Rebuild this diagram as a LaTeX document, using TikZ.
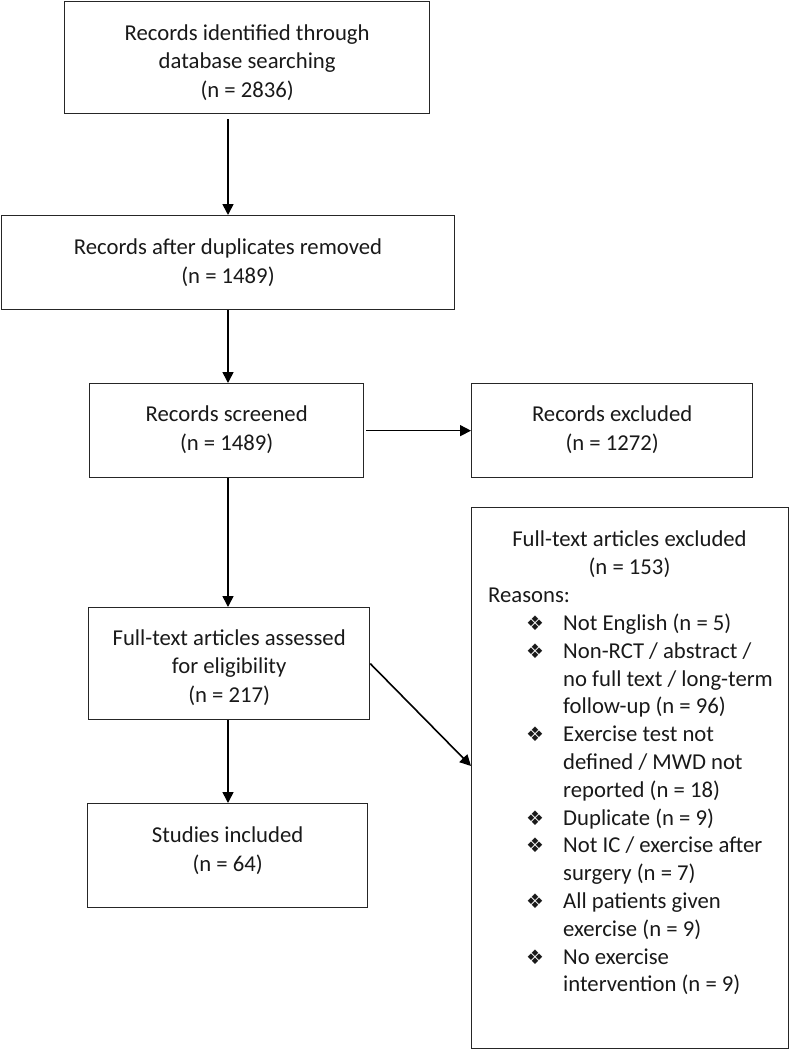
\documentclass[tikz,border=0pt]{standalone}
\usepackage{fontspec}
\setmainfont{Carlito}
\newfontfamily\dejavu{DejaVu Sans}
\usetikzlibrary{arrows.meta}
\newcommand\dia{\makebox[75pt][l]{\hspace{38pt}{\dejavu\fontsize{20}{20}\selectfont ❖}}}
\newcommand\ind{\hspace*{75pt}}
\begin{document}
\begin{tikzpicture}[x=1pt,y=-1pt,
  box/.style={draw=black!85,line width=1.3pt,inner sep=0pt,anchor=north west},
  txt/.style={align=center,inner sep=0pt,text=black!90,font=\fontsize{22.7}{28.5}\selectfont},
  ltxt/.style={align=left,inner sep=0pt,text=black!90,font=\fontsize{22.7}{27.8}\selectfont},
  arr/.style={line width=1.6pt,-{Triangle[length=11pt,width=11pt]}}]
\useasboundingbox (0,0) rectangle (790,1049);
\node[box,minimum width=365pt,minimum height=112pt] (b1) at (64,1) {};
\node[box,minimum width=453.3pt,minimum height=94pt] (b2) at (0.7,215) {};
\node[box,minimum width=274pt,minimum height=94pt] (b3) at (89,383) {};
\node[box,minimum width=281pt,minimum height=94pt] (ex) at (471,383) {};
\node[box,minimum width=281pt,minimum height=112pt] (b4) at (88,607) {};
\node[box,minimum width=280pt,minimum height=104pt] (b5) at (87,803) {};
\node[box,minimum width=317pt,minimum height=540.5pt] (rb) at (471,507) {};
\node[txt] (t1) at ([yshift=-5pt]b1.center) {Records identified through\\database searching\\(n = 2836)};
\node[txt] (t2) at (b2.center) {Records after duplicates removed\\(n = 1489)};
\node[txt] (t3) at ([yshift=1pt]b3.center) {Records screened\\(n = 1489)};
\node[txt] (te) at ([yshift=1pt]ex.center) {Records excluded\\(n = 1272)};
\node[txt] (t4) at ([yshift=-4pt]b4.center) {Full-text articles assessed\\for eligibility\\(n = 217)};
\node[txt] (t5) at ([yshift=5pt]b5.center) {Studies included\\(n = 64)};
\node[txt,font=\fontsize{22.7}{28}\selectfont] (rh) at (629.5,554) {Full-text articles excluded\\(n = 153)};
\node[ltxt,anchor=north west] (rl) at (488,588) {Reasons:\\
\dia Not English (n = 5)\\
\dia Non-RCT / abstract /\\
\ind no full text / long-term\\
\ind follow-up (n = 96)\\
\dia Exercise test not\\
\ind defined / MWD not\\
\ind reported (n = 18)\\
\dia Duplicate (n = 9)\\
\dia Not IC / exercise after\\
\ind surgery (n = 7)\\
\dia All patients given\\
\ind exercise (n = 9)\\
\dia No exercise\\
\ind intervention (n = 9)};
\coordinate (ax) at (228,0);
\coordinate (dy) at (0,766);
\draw[arr] ([yshift=-5pt]b1.south -| ax) -- (b2.north -| ax);
\draw[arr] (b2.south -| ax) -- (b3.north -| ax);
\draw[arr] (b3.south -| ax) -- (b4.north -| ax);
\draw[arr] (b4.south -| ax) -- (b5.north -| ax);
\draw[arr] ([xshift=2pt]b3.east) -- (ex.west);
\draw[arr] (b4.east) -- (rb.west |- dy);
\end{tikzpicture}
\end{document}
